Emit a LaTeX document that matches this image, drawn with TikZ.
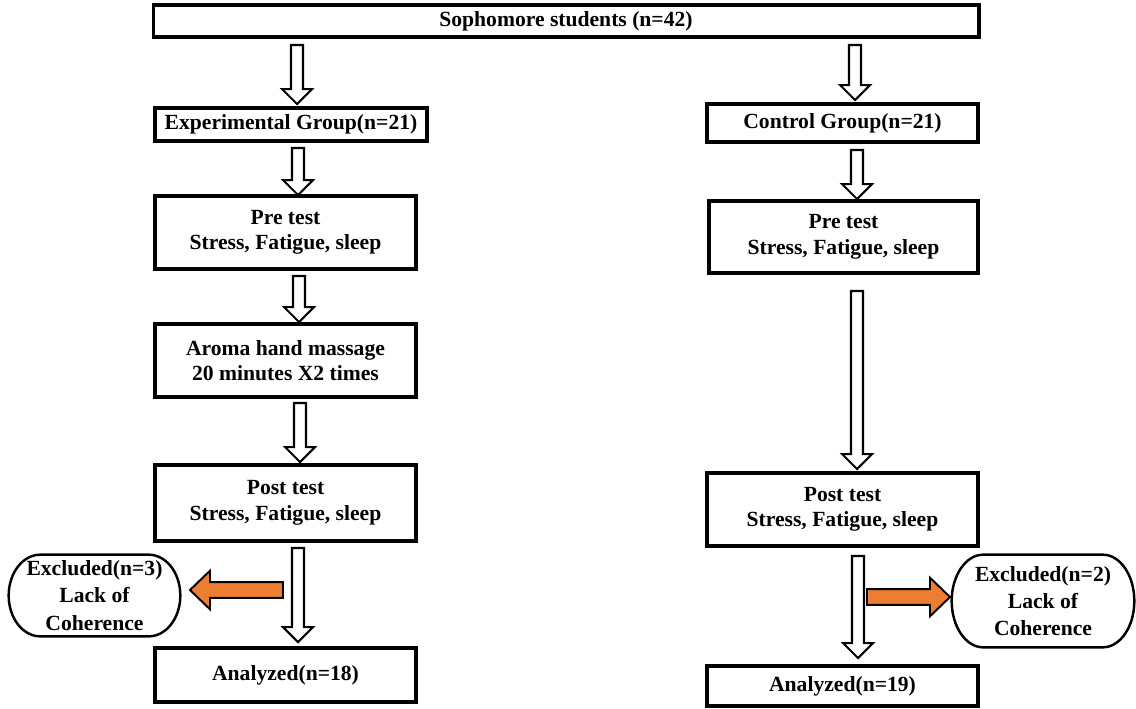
\documentclass[tikz,border=0pt]{standalone}
\usepackage{fontspec}
\setmainfont{Liberation Serif}[BoldFont={Liberation Serif Bold}, ItalicFont={Liberation Serif Italic}]
\newfontfamily\tnr{Liberation Serif}[BoldFont={Liberation Serif Bold}]
\usetikzlibrary{calc}
\definecolor{orangefill}{HTML}{ED7D31}
\tikzset{
  box/.style={draw=black, line width=1.8pt, fill=white, align=center, inner sep=0pt,
    font=\tnr\bfseries\fontsize{12.3}{14.5}\selectfont},
  exclbox/.style={align=center, inner sep=0pt,
    font=\tnr\bfseries\fontsize{12.3}{15.5}\selectfont},
  exclline/.style={draw=black, line width=1.4pt},
  hollow/.style={draw=black, line width=1.2pt, fill=white, line join=miter},
  orangearrow/.style={draw=black, line width=1.1pt, fill=orangefill, line join=miter}
}
\newcommand\blockdown[2]{%
  \draw[hollow] let \p1=(#1), \p2=(#2) in
    (\x1-3.4pt,\y1) -- (\x1+3.4pt,\y1) -- (\x1+3.4pt,\y2+8.5pt) -- (\x1+8.5pt,\y2+8.5pt)
    -- (\x1,\y2) -- (\x1-8.5pt,\y2+8.5pt) -- (\x1-3.4pt,\y2+8.5pt) -- cycle;}
\newcommand\blockside[3]{%
  \draw[orangearrow] let \p1=(#1), \p2=(#2) in
    (\x1,\y1-4.5pt) -- (\x1,\y1+4.5pt) -- ({\x2-#3},\y1+4.5pt) -- ({\x2-#3},\y1+11pt)
    -- (\x2,\y1) -- ({\x2-#3},\y1-11pt) -- ({\x2-#3},\y1-4.5pt) -- cycle;}
\newcommand\ovalframe[1]{%
  \draw[exclline] let \p1=(#1.north west), \p2=(#1.south east), \n1={(\y1-\y2)/2} in
    ({\x1+18pt},\y1) -- ({\x2-18pt},\y1)
    arc[start angle=90, end angle=-90, x radius=18pt, y radius=\n1]
    -- ({\x1+18pt},\y2)
    arc[start angle=270, end angle=90, x radius=18pt, y radius=\n1] -- cycle;}
\begin{document}
\begin{tikzpicture}[x=0.02cm, y=-0.02cm]
\useasboundingbox[fill=white] (0,0) rectangle (1136,708);

% boxes
\node[box, minimum width=16.52cm, minimum height=0.64cm] (top) at (566,21) {Sophomore students (n=42)};

\node[box, minimum width=5.44cm, minimum height=0.66cm] (exp) at (291,124.5) {Experimental Group(n=21)};
\node[box, minimum width=5.22cm, minimum height=1.46cm] (preL) at (285.5,232.5) {Pre test\\Stress, Fatigue, sleep};
\node[box, minimum width=5.22cm, minimum height=1.46cm] (aroma) at (285.5,360.5) {Aroma hand massage\\20 minutes X2 times};
\node[box, minimum width=5.22cm, minimum height=1.52cm] (postL) at (285.5,503) {Post test\\Stress, Fatigue, sleep};
\node[box, minimum width=5.22cm, minimum height=1.08cm] (anaL) at (285.5,675) {Analyzed(n=18)};

\node[box, minimum width=5.42cm, minimum height=0.76cm] (ctrl) at (842.5,123) {Control Group(n=21)};
\node[box, minimum width=5.38cm, minimum height=1.44cm] (preR) at (843.5,237) {Pre test\\Stress, Fatigue, sleep};
\node[box, minimum width=5.42cm, minimum height=1.46cm] (postR) at (842.5,509.5) {Post test\\Stress, Fatigue, sleep};
\node[box, minimum width=5.42cm, minimum height=0.8cm] (anaR) at (842.5,686) {Analyzed(n=19)};

\node[exclbox, minimum width=3.42cm, minimum height=1.62cm] (exL) at (94.5,595.5) {Excluded(n=3)\\Lack of\\Coherence};
\node[exclbox, minimum width=3.64cm, minimum height=1.84cm] (exR) at (1043,601) {Excluded(n=2)\\Lack of\\Coherence};
\ovalframe{exL}
\ovalframe{exR}

% arrow end points
\coordinate (tLs) at (297,45);  \coordinate (tLe) at (297,104);
\coordinate (tRs) at (855,45);  \coordinate (tRe) at (855,100);
\coordinate (l2s) at (298,148); \coordinate (l2e) at (298,195);
\coordinate (r2s) at (857,150); \coordinate (r2e) at (857,199);
\coordinate (l3s) at (299,276); \coordinate (l3e) at (299,322);
\coordinate (l4s) at (300,403); \coordinate (l4e) at (300,462);
\coordinate (r3s) at (857,291); \coordinate (r3e) at (857,469);
\coordinate (l5s) at (298,548); \coordinate (l5e) at (298,642);
\coordinate (r5s) at (858,556); \coordinate (r5e) at (858,658);
\coordinate (oLs) at (283,590); \coordinate (oLe) at (190,590);
\coordinate (oRs) at (867,597); \coordinate (oRe) at (950,597);

\blockdown{tLs}{tLe}
\blockdown{tRs}{tRe}
\blockdown{l2s}{l2e}
\blockdown{r2s}{r2e}
\blockdown{l3s}{l3e}
\blockdown{l4s}{l4e}
\blockdown{r3s}{r3e}
\blockdown{l5s}{l5e}
\blockdown{r5s}{r5e}

\blockside{oLs}{oLe}{-11.4pt}
\blockside{oRs}{oRe}{11.4pt}
\end{tikzpicture}
\end{document}
